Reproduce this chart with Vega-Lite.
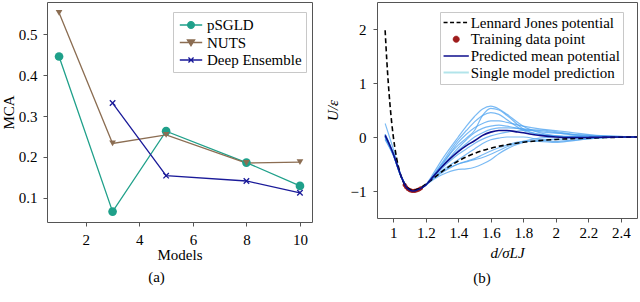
{
  "$schema": "https://vega.github.io/schema/vega-lite/v6.json",
  "padding": {"left": 0, "top": 1, "right": 0, "bottom": 0},
  "bounds": "flush",
  "spacing": 65,
  "config": {
    "view": {"stroke": "#555555", "strokeWidth": 1},
    "axis": {"domain": false, "grid": false, "tickColor": "#555555", "tickSize": 4, "labelFlush": false, "labelFont": "Liberation Serif", "labelFontSize": 15, "labelColor": "black", "titleFont": "Liberation Serif", "titleFontSize": 15, "titleFontWeight": "normal", "titleColor": "black"},
    "title": {"font": "Liberation Serif", "fontSize": 15, "fontWeight": "normal", "color": "black", "orient": "bottom", "anchor": "middle"},
    "legend": {"labelFont": "Liberation Serif", "labelFontSize": 15, "labelColor": "black", "labelLimit": 400}
  },
  "resolve": {"scale": {"x": "independent", "y": "independent", "color": "independent"}, "legend": {"color": "independent"}},
  "hconcat": [
    {
      "width": 265,
      "height": 220,
      "title": {"text": "(a)", "orient": "bottom", "offset": 8, "dx": -23},
      "data": {"values": [
        {"series": "pSGLD", "models": 1, "mca": 0.446},
        {"series": "pSGLD", "models": 3, "mca": 0.066},
        {"series": "pSGLD", "models": 5, "mca": 0.263},
        {"series": "pSGLD", "models": 8, "mca": 0.186},
        {"series": "pSGLD", "models": 10, "mca": 0.129},
        {"series": "NUTS", "models": 1, "mca": 0.553},
        {"series": "NUTS", "models": 3, "mca": 0.233},
        {"series": "NUTS", "models": 5, "mca": 0.254},
        {"series": "NUTS", "models": 8, "mca": 0.185},
        {"series": "NUTS", "models": 10, "mca": 0.187},
        {"series": "Deep Ensemble", "models": 3, "mca": 0.332},
        {"series": "Deep Ensemble", "models": 5, "mca": 0.154},
        {"series": "Deep Ensemble", "models": 8, "mca": 0.141},
        {"series": "Deep Ensemble", "models": 10, "mca": 0.112}
      ]},
      "encoding": {
        "x": {"field": "models", "type": "quantitative", "scale": {"domain": [0.55, 10.45], "nice": false, "zero": false}, "axis": {"values": [2, 4, 6, 8, 10], "title": "Models", "titlePadding": 0, "labelPadding": 6}},
        "y": {"field": "mca", "type": "quantitative", "scale": {"domain": [0.0405, 0.5795], "nice": false, "zero": false}, "axis": {"values": [0.1, 0.2, 0.3, 0.4, 0.5], "format": ".1f", "title": "MCA", "titlePadding": 2, "labelPadding": 6}}
      },
      "layer": [
        {
          "mark": {"type": "line", "strokeWidth": 1.3},
          "encoding": {
            "color": {"field": "series", "type": "nominal",
              "scale": {"domain": ["pSGLD", "NUTS", "Deep Ensemble"], "range": ["#1fa08a", "#8b6d52", "#1a1a99"]},
              "legend": {"orient": "none", "legendX": 126, "legendY": 10, "title": null, "padding": 4, "strokeColor": "#c8c8c8", "fillColor": "white", "symbolSize": 256, "symbolOffset": 5, "labelOffset": 7, "rowPadding": 0.5,
                "encode": {"symbols": {"update": {
                  "shape": {"signal": "datum.value === 'pSGLD' ? 'M-1.4,0H1.4M0.42,0A0.42,0.42,0,1,1,-0.42,0A0.42,0.42,0,1,1,0.42,0Z' : datum.value === 'NUTS' ? 'M-1.4,0H1.4M-0.45,-0.32H0.45L0,0.42Z' : 'M-1.4,0H1.4M-0.32,-0.32L0.32,0.32M-0.32,0.32L0.32,-0.32'"},
                  "fill": {"signal": "datum.value === 'pSGLD' ? '#1fa08a' : datum.value === 'NUTS' ? '#8b6d52' : 'transparent'"},
                  "stroke": {"signal": "datum.value === 'pSGLD' ? '#1fa08a' : datum.value === 'NUTS' ? '#8b6d52' : '#1a1a99'"},
                  "strokeWidth": {"value": 1.3},
                  "opacity": {"value": 1}
                }}}
              }}
          }
        },
        {
          "transform": [{"filter": "datum.series === 'pSGLD'"}],
          "mark": {"type": "point", "shape": "circle", "filled": true, "opacity": 1, "color": "#1fa08a", "size": 75}
        },
        {
          "transform": [{"filter": "datum.series === 'NUTS'"}],
          "mark": {"type": "point", "shape": "triangle-down", "filled": true, "opacity": 1, "color": "#8b6d52", "size": 45}
        },
        {
          "transform": [{"filter": "datum.series === 'Deep Ensemble'"}],
          "mark": {"type": "point", "shape": "M-1,-1L1,1M-1,1L1,-1", "filled": false, "opacity": 1, "color": "#1a1a99", "strokeWidth": 1.3, "size": 30}
        }
      ]
    },
    {
      "width": 260,
      "height": 216,
      "title": {"text": "(b)", "orient": "bottom", "offset": 11, "dx": -25},
      "encoding": {
        "x": {"field": "x", "type": "quantitative", "scale": {"domain": [0.9, 2.5], "nice": false, "zero": false}, "axis": {"values": [1, 1.2, 1.4, 1.6, 1.8, 2, 2.2, 2.4], "format": "~g", "title": "d/σLJ", "titleFontStyle": "italic", "titlePadding": 5, "labelPadding": 3}},
        "y": {"field": "u", "type": "quantitative", "scale": {"domain": [-1.5, 2.5], "nice": false, "zero": false}, "axis": {"values": [-1, 0, 1, 2], "format": "d", "title": "U/ε", "titleFontStyle": "italic", "titlePadding": 10, "labelPadding": 7}}
      },
      "layer": [
        {
          "data": {"values": [
            {"x": 0.95, "s1": 0.25, "s2": 0.05, "s3": 0.0, "s4": 0.02, "s5": -0.03, "s6": 0.0, "s7": 0.03, "s8": 0.05, "s9": -0.05, "s10": 0.0, "s11": 0.02},
            {"x": 1.0, "s1": -0.22, "s2": -0.3, "s3": -0.32, "s4": -0.31, "s5": -0.33, "s6": -0.32, "s7": -0.31, "s8": -0.3, "s9": -0.34, "s10": -0.33, "s11": -0.31},
            {"x": 1.05, "s1": -0.72, "s2": -0.74, "s3": -0.74, "s4": -0.74, "s5": -0.75, "s6": -0.74, "s7": -0.74, "s8": -0.74, "s9": -0.75, "s10": -0.75, "s11": -0.74},
            {"x": 1.12, "s1": -1.0, "s2": -1.0, "s3": -1.0, "s4": -1.0, "s5": -1.0, "s6": -1.0, "s7": -1.0, "s8": -1.0, "s9": -1.0, "s10": -1.0, "s11": -1.0},
            {"x": 1.2, "s1": -0.88, "s2": -0.89, "s3": -0.89, "s4": -0.89, "s5": -0.89, "s6": -0.89, "s7": -0.89, "s8": -0.89, "s9": -0.89, "s10": -0.89, "s11": -0.89},
            {"x": 1.25, "s1": -0.66, "s2": -0.7, "s3": -0.7, "s4": -0.71, "s5": -0.72, "s6": -0.72, "s7": -0.73, "s8": -0.74, "s9": -0.76, "s10": -0.78, "s11": -0.75},
            {"x": 1.3, "s1": -0.42, "s2": -0.5, "s3": -0.48, "s4": -0.52, "s5": -0.55, "s6": -0.55, "s7": -0.58, "s8": -0.62, "s9": -0.66, "s10": -0.7, "s11": -0.64},
            {"x": 1.4, "s1": 0.0, "s2": -0.15, "s3": -0.05, "s4": -0.1, "s5": -0.2, "s6": -0.25, "s7": -0.32, "s8": -0.42, "s9": -0.5, "s10": -0.6, "s11": -0.5},
            {"x": 1.45, "s1": 0.2, "s2": -0.02, "s3": 0.12, "s4": 0.05, "s5": -0.05, "s6": -0.12, "s7": -0.22, "s8": -0.32, "s9": -0.45, "s10": -0.59, "s11": -0.46},
            {"x": 1.5, "s1": 0.38, "s2": 0.12, "s3": 0.28, "s4": 0.17, "s5": 0.08, "s6": 0.0, "s7": -0.12, "s8": -0.22, "s9": -0.4, "s10": -0.56, "s11": -0.42},
            {"x": 1.55, "s1": 0.52, "s2": 0.4, "s3": 0.4, "s4": 0.25, "s5": 0.16, "s6": 0.08, "s7": -0.04, "s8": -0.12, "s9": -0.33, "s10": -0.5, "s11": -0.38},
            {"x": 1.6, "s1": 0.57, "s2": 0.53, "s3": 0.45, "s4": 0.3, "s5": 0.2, "s6": 0.14, "s7": 0.02, "s8": -0.05, "s9": -0.26, "s10": -0.42, "s11": -0.32},
            {"x": 1.65, "s1": 0.52, "s2": 0.5, "s3": 0.42, "s4": 0.3, "s5": 0.22, "s6": 0.17, "s7": 0.06, "s8": -0.02, "s9": -0.2, "s10": -0.31, "s11": -0.25},
            {"x": 1.7, "s1": 0.42, "s2": 0.4, "s3": 0.32, "s4": 0.27, "s5": 0.2, "s6": 0.17, "s7": 0.09, "s8": 0.0, "s9": -0.15, "s10": -0.22, "s11": -0.18},
            {"x": 1.8, "s1": 0.2, "s2": 0.15, "s3": 0.12, "s4": 0.2, "s5": 0.14, "s6": 0.15, "s7": 0.12, "s8": 0.0, "s9": -0.08, "s10": -0.1, "s11": -0.08},
            {"x": 1.9, "s1": 0.08, "s2": 0.05, "s3": 0.05, "s4": 0.15, "s5": 0.1, "s6": 0.12, "s7": 0.13, "s8": -0.05, "s9": -0.08, "s10": -0.06, "s11": -0.02},
            {"x": 2.0, "s1": 0.02, "s2": 0.02, "s3": 0.02, "s4": 0.12, "s5": 0.07, "s6": 0.08, "s7": 0.1, "s8": -0.08, "s9": -0.1, "s10": -0.04, "s11": 0.0},
            {"x": 2.1, "s1": 0.0, "s2": 0.01, "s3": 0.0, "s4": 0.08, "s5": 0.05, "s6": 0.04, "s7": 0.05, "s8": -0.06, "s9": -0.07, "s10": -0.03, "s11": 0.01},
            {"x": 2.25, "s1": 0.0, "s2": 0.0, "s3": 0.0, "s4": 0.03, "s5": 0.02, "s6": 0.01, "s7": 0.02, "s8": -0.02, "s9": -0.02, "s10": -0.01, "s11": 0.0},
            {"x": 2.5, "s1": 0.0, "s2": 0.0, "s3": 0.0, "s4": 0.0, "s5": 0.0, "s6": 0.0, "s7": 0.0, "s8": 0.0, "s9": 0.0, "s10": 0.0, "s11": 0.0}
          ]},
          "transform": [{"fold": ["s1", "s2", "s3", "s4", "s5", "s6", "s7", "s8", "s9", "s10", "s11"], "as": ["model", "u"]}],
          "mark": {"type": "line", "interpolate": "monotone", "color": "#4da3f0", "strokeWidth": 1.2, "opacity": 0.75},
          "encoding": {"detail": {"field": "model", "type": "nominal"}}
        },
        {
          "data": {"values": [
            {"x": 1.07, "u": -0.889}, {"x": 1.08, "u": -0.932}, {"x": 1.09, "u": -0.963}, {"x": 1.1, "u": -0.983},
            {"x": 1.11, "u": -0.995}, {"x": 1.12, "u": -1.0}, {"x": 1.13, "u": -0.998}, {"x": 1.14, "u": -0.992},
            {"x": 1.15, "u": -0.982}, {"x": 1.16, "u": -0.968}, {"x": 1.17, "u": -0.951}
          ]},
          "mark": {"type": "circle", "size": 18, "opacity": 1},
          "encoding": {"color": {"datum": "Training data point", "type": "nominal"}}
        },
        {
          "data": {"values": [
            {"x": 0.95, "u": 1.977}, {"x": 0.96, "u": 1.434}, {"x": 0.97, "u": 0.979}, {"x": 0.98, "u": 0.598}, {"x": 0.99, "u": 0.28},
            {"x": 1.0, "u": 0.016}, {"x": 1.02, "u": -0.382}, {"x": 1.04, "u": -0.647}, {"x": 1.06, "u": -0.816}, {"x": 1.08, "u": -0.916},
            {"x": 1.1, "u": -0.967}, {"x": 1.12, "u": -0.984}, {"x": 1.14, "u": -0.976}, {"x": 1.16, "u": -0.952}, {"x": 1.18, "u": -0.917},
            {"x": 1.2, "u": -0.875}, {"x": 1.25, "u": -0.758}, {"x": 1.3, "u": -0.641}, {"x": 1.35, "u": -0.536}, {"x": 1.4, "u": -0.445},
            {"x": 1.45, "u": -0.368}, {"x": 1.5, "u": -0.304}, {"x": 1.6, "u": -0.208}, {"x": 1.7, "u": -0.143}, {"x": 1.8, "u": -0.098},
            {"x": 1.9, "u": -0.067}, {"x": 2.0, "u": -0.045}, {"x": 2.1, "u": -0.03}, {"x": 2.2, "u": -0.019}, {"x": 2.3, "u": -0.01},
            {"x": 2.4, "u": -0.004}, {"x": 2.5, "u": 0.0}
          ]},
          "mark": {"type": "line", "interpolate": "monotone", "strokeWidth": 1.6, "strokeDash": [5, 3]},
          "encoding": {"color": {"datum": "Lennard Jones potential", "type": "nominal",
            "scale": {"domain": ["Lennard Jones potential", "Training data point", "Predicted mean potential", "Single model prediction"], "range": ["black", "#9e1c1c", "#0d0d8c", "#b2e4ea"]},
            "legend": {"orient": "none", "legendX": 63, "legendY": 10, "title": null, "padding": 3, "strokeColor": "#c8c8c8", "fillColor": "white", "symbolSize": 256, "symbolOffset": 5.7, "labelOffset": 7, "rowPadding": 0.7,
              "encode": {"symbols": {"update": {
                "shape": {"signal": "datum.value === 'Training data point' ? 'M0.4,0A0.4,0.4,0,1,1,-0.4,0A0.4,0.4,0,1,1,0.4,0Z' : 'M-1.58,0H1.58'"},
                "fill": {"signal": "datum.value === 'Training data point' ? '#9e1c1c' : 'transparent'"},
                "stroke": {"signal": "datum.value === 'Lennard Jones potential' ? 'black' : datum.value === 'Training data point' ? '#9e1c1c' : datum.value === 'Predicted mean potential' ? '#0d0d8c' : '#b2e4ea'"},
                "strokeWidth": {"signal": "datum.value === 'Training data point' ? 0.5 : datum.value === 'Single model prediction' ? 2 : 1.5"},
                "strokeDash": {"signal": "datum.value === 'Lennard Jones potential' ? [4, 2.5] : [1, 0]"},
                "opacity": {"value": 1}
              }}}
            }}}
        },
        {
          "data": {"values": [
            {"x": 0.95, "u": 0.03}, {"x": 0.975, "u": -0.13}, {"x": 1.0, "u": -0.31}, {"x": 1.025, "u": -0.53}, {"x": 1.05, "u": -0.74},
            {"x": 1.08, "u": -0.93}, {"x": 1.1, "u": -0.98}, {"x": 1.12, "u": -1.0}, {"x": 1.14, "u": -0.99}, {"x": 1.16, "u": -0.965},
            {"x": 1.2, "u": -0.89}, {"x": 1.25, "u": -0.72}, {"x": 1.3, "u": -0.55}, {"x": 1.35, "u": -0.4}, {"x": 1.4, "u": -0.27},
            {"x": 1.45, "u": -0.16}, {"x": 1.5, "u": -0.07}, {"x": 1.55, "u": 0.03}, {"x": 1.6, "u": 0.09}, {"x": 1.65, "u": 0.12},
            {"x": 1.7, "u": 0.12}, {"x": 1.75, "u": 0.1}, {"x": 1.8, "u": 0.08}, {"x": 1.85, "u": 0.05}, {"x": 1.9, "u": 0.03},
            {"x": 2.0, "u": 0.0}, {"x": 2.1, "u": -0.01}, {"x": 2.2, "u": -0.008}, {"x": 2.3, "u": -0.003}, {"x": 2.4, "u": 0.0}, {"x": 2.5, "u": 0.0}
          ]},
          "mark": {"type": "line", "interpolate": "monotone", "strokeWidth": 1.6},
          "encoding": {"color": {"datum": "Predicted mean potential", "type": "nominal"}}
        }
      ]
    }
  ]
}
